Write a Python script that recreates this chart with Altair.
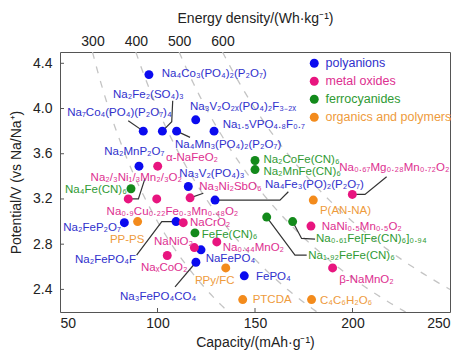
import altair as alt
import numpy as np
import pandas as pd

FONT = "Liberation Sans, Arial, Helvetica, sans-serif"

CATEGORIES = ["polyanions", "metal oxides", "ferrocyanides", "organics and polymers"]
DOT_COLORS = ["#0b0bef", "#e8157f", "#138a1b", "#f38b1c"]
TEXT_COLORS = ["#3030cc", "#dd2f90", "#2f9a33", "#ee9b3c"]

# cathode materials: group, capacity (mAh/g), average potential (V vs Na/Na+)
materials = [
    "Na₄Co₃(PO₄)₂(P₂O₇)", "Na₇Co₄(PO₄)(P₂O₇)₄", "Na₂Fe₂(SO₄)₃", "Na₄Mn₃(PO₄)₂(P₂O₇)",
    "Na₃V₂O₂ₓ(PO₄)₂F₃₋₂ₓ", "Na₁.₅VPO₄.₈F₀.₇", "Na₂MnP₂O₇", "Na₃V₂(PO₄)₃",
    "Na₄Fe₃(PO)₂(P₂O₇)", "Na₂FeP₂O₇", "Na₂FePO₄F", "NaFePO₄", "Na₃FePO₄CO₄", "FePO₄",
    "α-NaFeO₂", "Na₂/₃Ni₁/₃Mn₂/₃O₂", "Na₀.₉Cu₀.₂₂Fe₀.₃Mn₀.₄₈O₂", "Na₃Ni₂SbO₆",
    "NaCrO₂", "Na₀.₄₄MnO₂", "NaNiO₂", "NaₓCoO₂", "Na₀.₆₇Mg₀.₂₈Mn₀.₇₂O₂",
    "NaNi₀.₅Mn₀.₅O₂", "β-NaMnO₂",
    "Na₄Fe(CN)₆", "Na₂CoFe(CN)₆", "Na₂MnFe(CN)₆", "FeFe(CN)₆", "Na₁.₉₂FeFe(CN)₆",
    "Na₀.₆₁Fe[Fe(CN)₆]₀.₉₄",
    "PP-PS", "PPy/FC", "PTCDA", "P(AN-NA)", "C₄C₆H₂O₆",
]
group = (["polyanions"] * 14 + ["metal oxides"] * 11 + ["ferrocyanides"] * 6
         + ["organics and polymers"] * 5)
capacity = [
    95.6, 92.7, 102.5, 109.8, 119.6, 129.0, 90.5, 115.8, 129.5, 83.0, 109.5, 122.3, 119.7, 144.5,
    100.1, 85.0, 99.6, 116.7, 113.2, 130.4, 118.9, 105.0, 199.9, 178.7, 189.8,
    86.4, 150.0, 150.0, 119.2, 156.0, 169.3,
    89.8, 135.0, 143.7, 179.9, 179.0,
]
potential = [
    4.30, 3.80, 3.80, 3.80, 3.90, 3.80, 3.49, 3.31, 3.19, 2.99, 3.00, 2.75, 2.64, 2.52,
    3.49, 3.20, 3.20, 3.21, 2.99, 2.82, 2.77, 2.70, 3.24, 2.96, 2.59,
    3.29, 3.54, 3.46, 2.90, 3.04, 3.00,
    3.00, 2.59, 2.31, 3.19, 2.31,
]
# where each name is written (left end of the text)
label_cap = [
    102.2, 53.7, 77.2, 109.0, 116.7, 133.4, 72.7, 111.2, 155.1, 51.7, 57.7, 124.7, 80.8, 150.5,
    104.4, 65.7, 73.9, 121.4, 116.7, 133.4, 98.2, 91.5, 193.2, 184.2, 193.2,
    52.6, 154.3, 154.3, 122.7, 177.3, 181.3,
    75.6, 119.2, 148.8, 183.3, 183.3,
]
label_pot = [
    4.303, 3.958, 4.119, 3.677, 4.011, 3.858, 3.618, 3.420, 3.323, 2.940, 2.659, 2.665, 2.335, 2.511,
    3.559, 3.382, 3.088, 3.303, 2.985, 2.770, 2.821, 2.586, 3.471, 2.949, 2.482,
    3.279, 3.543, 3.436, 2.880, 2.695, 2.845,
    2.836, 2.473, 2.305, 3.096, 2.296,
]

# bend points of the callout lines, from the text end towards the marker
leader_bends = {
    "Na₂Fe₂(SO₄)₃": [(107.8, 4.069), (107.3, 3.883)],
    "Na₇Co₄(PO₄)(P₂O₇)₄": [(85.0, 3.892)],
    "Na₄Mn₃(PO₄)₂(P₂O₇)": [(116.7, 3.745)],
    "Na₂/₃Ni₁/₃Mn₂/₃O₂": [(93.6, 3.382), (90.2, 3.20)],
    "Na₃Ni₂SbO₆": [(123.5, 3.250)],
    "Na₄Fe₃(PO)₂(P₂O₇)": [(167.1, 3.264), (162.8, 3.19)],
    "Na₂FePO₄F": [(89.3, 2.704), (102.2, 3.00)],
    "Na₃FePO₄CO₄": [(109.0, 2.423)],
    "Na₀.₆₇Mg₀.₂₈Mn₀.₇₂O₂": [(217.5, 3.396), (206.4, 3.24)],
    "Na₀.₆₁Fe[Fe(CN)₆]₀.₉₄": [(180.8, 2.845), (173.9, 2.851)],
    "Na₁.₉₂FeFe(CN)₆": [(176.5, 2.704), (170.5, 2.704)],
}

# iso-energy-density guide curves (Wh/kg)
energies = [300, 400, 500, 600]
X_DOMAIN = [50, 250]
Y_DOMAIN = [2.2, 4.5]
x_ticks = [100, 150, 200]
y_ticks = [2.4, 2.8, 3.2, 3.6, 4.0, 4.4]

pts = pd.DataFrame({"name": materials, "group": group, "cap": capacity, "pot": potential,
                    "lcap": label_cap, "lpot": label_pot})

rows = []
for name, bends in leader_bends.items():
    i = materials.index(name)
    path = list(bends) + [(capacity[i], potential[i])]
    for k, (c, v) in enumerate(path):
        rows.append({"id": name, "k": k, "cap": c, "pot": v})
leaders = pd.DataFrame(rows)

curve_rows = []
for e in energies:
    c0 = e / Y_DOMAIN[1]
    c1 = min(e / Y_DOMAIN[0], X_DOMAIN[1])
    for c in np.linspace(c0, c1, 80):
        curve_rows.append({"E": e, "cap": c, "pot": e / c})
curves = pd.DataFrame(curve_rows)
top_ticks = [e / Y_DOMAIN[1] for e in energies]

xs = alt.Scale(domain=X_DOMAIN, nice=False, zero=False)
ys = alt.Scale(domain=Y_DOMAIN, nice=False, zero=False)

x_bottom = alt.X("cap:Q", scale=xs, title="Capacity/(mAh·g⁻¹)",
                 axis=alt.Axis(values=[50, 100, 150, 200, 250], format="d", tickSize=0,
                               domain=False, grid=False, labelPadding=4, titlePadding=5))
y_left = alt.Y("pot:Q", scale=ys, title="Potential/V (vs Na/Na⁺)",
               axis=alt.Axis(values=y_ticks, format=".1f", tickSize=0, domain=False, grid=False,
                             labelPadding=8, titlePadding=9))

guide = alt.Chart(curves).mark_line(clip=True, color="#c4c4c4", strokeWidth=1.3,
                                    strokeDash=[7, 8]).encode(
    x=alt.X("cap:Q", scale=xs, title="Energy density/(Wh·kg⁻¹)",
            axis=alt.Axis(orient="top", values=top_ticks, tickSize=0, domain=False, grid=False,
                          labelExpr=f"format(round(datum.value*{Y_DOMAIN[1]}), 'd')",
                          labelPadding=4, titlePadding=9)),
    y=y_left,
    detail="E:N",
    order="cap:Q",
)

lines = alt.Chart(leaders).mark_line(color="#333333", strokeWidth=1.2).encode(
    x=x_bottom, y=y_left, detail="id:N", order="k:Q")

legend_expr = " : ".join(
    f"datum.label == '{c}' ? '{t}'" for c, t in zip(CATEGORIES, TEXT_COLORS)) + " : '#333'"

dots = alt.Chart(pts).mark_circle(size=80, opacity=1).encode(
    x=alt.X("cap:Q", scale=xs),
    y=alt.Y("pot:Q", scale=ys),
    color=alt.Color("group:N", scale=alt.Scale(domain=CATEGORIES, range=DOT_COLORS),
                    legend=alt.Legend(title=None, orient="none", legendX=248, legendY=5,
                                      symbolType="circle", symbolSize=80, padding=0,
                                      labelFontSize=12.5, labelFont=FONT, labelOffset=5,
                                      rowPadding=5, symbolStrokeWidth=0,
                                      labelColor=alt.ExprRef(legend_expr))),
)

texts = alt.Chart(pts).mark_text(align="left", baseline="middle", fontSize=11.5, font=FONT).encode(
    x=alt.X("lcap:Q", scale=xs),
    y=alt.Y("lpot:Q", scale=ys),
    text="name:N",
    color=alt.Color("group:N", scale=alt.Scale(domain=CATEGORIES, range=TEXT_COLORS), legend=None),
)

xt = alt.Chart(pd.DataFrame({"t": x_ticks})).mark_rule(color="#555", strokeWidth=1).encode(
    x=alt.X("t:Q", scale=xs), y=alt.value(260), y2=alt.value(256))
yt = alt.Chart(pd.DataFrame({"v": y_ticks})).mark_rule(color="#555", strokeWidth=1).encode(
    y=alt.Y("v:Q", scale=ys), x=alt.value(0), x2=alt.value(4))

main = alt.layer(lines, dots, texts, xt, yt).resolve_scale(color="independent")

chart = alt.layer(guide, main).resolve_scale(x="independent").properties(
    width=390, height=260,
    autosize=alt.AutoSizeParams(type="none"),
    padding={"left": 60, "top": 52, "right": 10, "bottom": 46},
).configure_view(stroke="#555555", strokeWidth=1).configure_axis(
    labelFont=FONT, titleFont=FONT, labelFontSize=14, titleFontSize=14,
    titleFontWeight="normal", labelColor="#222", titleColor="#222",
)

chart.save("out.html", embed_options={"renderer": "svg", "actions": False})
